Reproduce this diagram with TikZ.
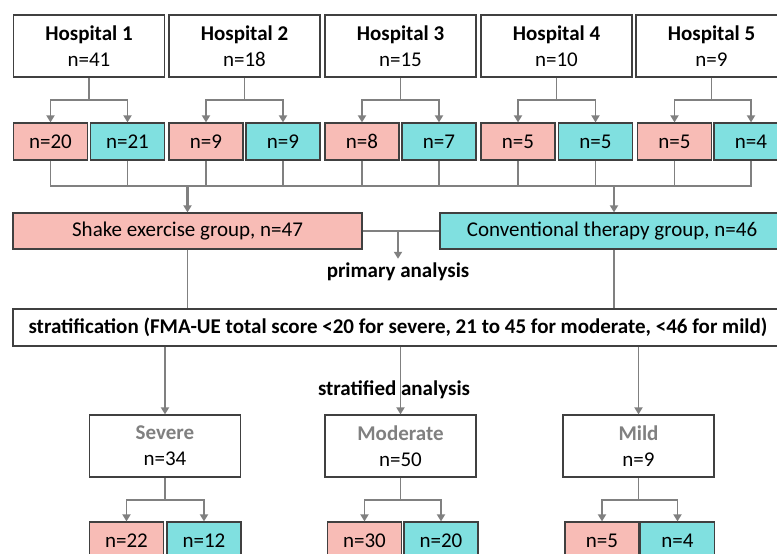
\documentclass[tikz,border=0pt]{standalone}
\usepackage{fontspec}
\setmainfont{Carlito}
\usetikzlibrary{arrows.meta}
\definecolor{armA}{RGB}{248,188,182}
\definecolor{armB}{RGB}{128,224,224}
\definecolor{wire}{RGB}{128,128,128}
\definecolor{edge}{RGB}{64,64,64}
\tikzset{
 box/.style={draw=edge,line width=1.2pt,inner sep=0pt,minimum height=37pt},
 site/.style={box,fill=white,minimum width=151pt,minimum height=62pt,align=center},
 armpink/.style={box,fill=armA,minimum width=74pt},
 armteal/.style={box,fill=armB,minimum width=74pt},
 wireline/.style={draw=wire,line width=1.8pt},
 wirearr/.style={wireline,->},
}
\begin{document}
\begin{tikzpicture}[>={Triangle[length=7pt,width=8pt]},x=1pt,y=-1pt,
 font=\fontsize{21}{26}\selectfont]
 \useasboundingbox (0,0) rectangle (777,554);
 % hospitals
 \node[site] (h1) at (89,46) {\textbf{Hospital 1}\\n=41};
 \node[site] (h2) at (244.5,46) {\textbf{Hospital 2}\\n=18};
 \node[site] (h3) at (400.5,46) {\textbf{Hospital 3}\\n=15};
 \node[site] (h4) at (556.5,46) {\textbf{Hospital 4}\\n=10};
 \node[site] (h5) at (711.5,46) {\textbf{Hospital 5}\\n=9};
 \node[armpink] (p1) at (50.5,141.5) {n=20};
 \node[armteal] (t1) at (127.5,141.5) {n=21};
 \node[armpink] (p2) at (206,141.5) {n=9};
 \node[armteal] (t2) at (283,141.5) {n=9};
 \node[armpink] (p3) at (362,141.5) {n=8};
 \node[armteal] (t3) at (439,141.5) {n=7};
 \node[armpink] (p4) at (518,141.5) {n=5};
 \node[armteal] (t4) at (595.5,141.5) {n=5};
 \node[armpink] (p5) at (674.5,141.5) {n=5};
 \node[armteal] (t5) at (751,141.5) {n=4};
 \coordinate (j1) at (89,100);
 \coordinate (j2) at (244.5,100);
 \coordinate (j3) at (400.5,100);
 \coordinate (j4) at (556.5,100);
 \coordinate (j5) at (711.5,100);
 \draw[wireline] (h1.south)--(j1) (h2.south)--(j2) (h3.south)--(j3)
  (h4.south)--(j4) (h5.south)--(j5);
 \draw[wirearr] (j1)-|(p1.north); \draw[wirearr] (j1)-|(t1.north);
 \draw[wirearr] (j2)-|(p2.north); \draw[wirearr] (j2)-|(t2.north);
 \draw[wirearr] (j3)-|(p3.north); \draw[wirearr] (j3)-|(t3.north);
 \draw[wirearr] (j4)-|(p4.north); \draw[wirearr] (j4)-|(t4.north);
 \draw[wirearr] (j5)-|(p5.north); \draw[wirearr] (j5)-|(t5.north);
 % groups
 \coordinate (mL) at (187.5,186);
 \coordinate (mR) at (614,186);
 \draw[wireline] (p1.south)|-(mL) (t1.south)|-(mL) (p2.south)|-(mL)
  (t2.south)|-(mL) (p3.south)|-(mL) (t3.south)|-(mR) (p4.south)|-(mR)
  (t4.south)|-(mR) (p5.south)|-(mR) (t5.south)|-(mR);
 \draw[wireline] (mL)--(mR);
 \node[box,fill=armA,minimum width=349pt,minimum height=36pt] (shake) at (187.5,231)
  {Shake exercise group, n=47};
 \node[box,fill=armB,minimum width=344pt,minimum height=36pt] (conv) at (612,231)
  {Conventional therapy group, n=46};
 \draw[wirearr,line width=2.4pt] (mL)--(shake.north);
 \draw[wirearr,line width=2.4pt] (mR)--(mR|-conv.north);
 \coordinate (pj) at (398,231);
 \node[font=\fontsize{21}{26}\selectfont\bfseries,inner sep=4pt] (prim) at (398,272) {primary analysis};
 \draw[wireline] (shake.east)--(conv.west);
 \draw[wirearr] (pj)--(prim.north);
 % strata
 \node[box,fill=white,minimum width=770pt] (strat) at (398,327.5)
  {\textbf{stratification (FMA-UE total score <20 for severe, 21 to 45 for moderate, <46 for mild)}};
 \draw[wireline] (shake.south)--(shake.south|-strat.north);
 \draw[wireline] (mR|-conv.south)--(mR|-strat.north);
 \node[site] (sev) at (165,446) {\textcolor{wire}{\textbf{Severe}}\\n=34};
 \node[site] (mod) at (400.5,446) {\textcolor{wire}{\textbf{Moderate}}\\n=50};
 \node[site] (mild) at (638.5,446) {\textcolor{wire}{\textbf{Mild}}\\n=9};
 \node[font=\fontsize{21}{26}\selectfont\bfseries] (strd) at (394,390) {stratified analysis};
 \draw[wirearr] (sev.north|-strat.south)--(sev.north);
 \draw[wirearr] (mod.north|-strat.south)--(mod.north);
 \draw[wirearr] (mild.north|-strat.south)--(mild.north);
 \node[armpink] (sp) at (126.5,540.5) {n=22};
 \node[armteal] (st) at (204,540.5) {n=12};
 \node[armpink] (mp) at (364.5,540.5) {n=30};
 \node[armteal] (mt) at (441,540.5) {n=20};
 \node[armpink] (lp) at (602,540.5) {n=5};
 \node[armteal] (lt) at (677.5,540.5) {n=4};
 \coordinate (sj) at (165,500);
 \coordinate (mj) at (400.5,500);
 \coordinate (lj) at (638.5,500);
 \draw[wireline] (sev.south)--(sj) (mod.south)--(mj) (mild.south)--(lj);
 \draw[wirearr] (sj)-|(sp.north); \draw[wirearr] (sj)-|(st.north);
 \draw[wirearr] (mj)-|(mp.north); \draw[wirearr] (mj)-|(mt.north);
 \draw[wirearr] (lj)-|(lp.north); \draw[wirearr] (lj)-|(lt.north);
\end{tikzpicture}
\end{document}
